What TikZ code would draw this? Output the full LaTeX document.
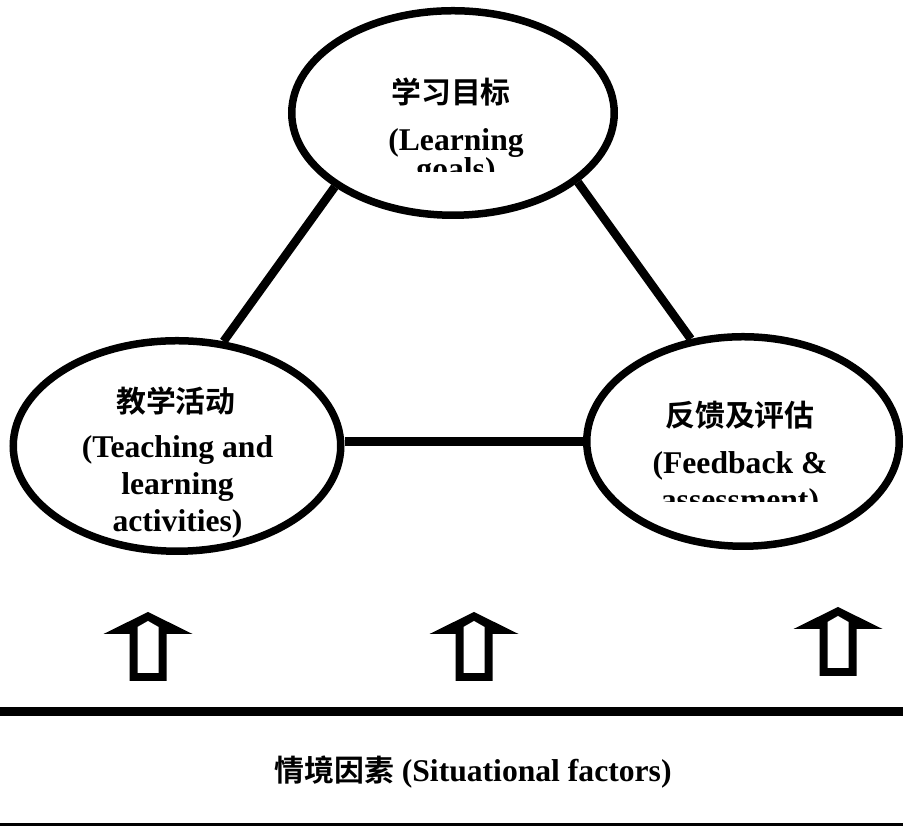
\documentclass[tikz,border=0pt]{standalone}
\usepackage{fontspec}
\setmainfont{Liberation Serif}
\newfontfamily\cjk{Noto Sans CJK SC}[BoldFont={* Bold}]
\usepackage{tikz}
\usetikzlibrary{shapes.geometric,calc}

\tikzset{
    oval/.style={draw=black, line width=0.15cm, ellipse, inner sep=0pt},
    zh/.style={font=\cjk\bfseries\fontsize{17}{20}\selectfont, inner sep=0pt},
    en/.style={font=\bfseries\fontsize{18}{21}\selectfont, align=center, anchor=north, inner sep=0pt},
    link/.style={draw=black, line width=0.17cm},
    bar/.style={draw=black, line width=0.18cm},
}

\begin{document}
\begin{tikzpicture}
        \useasboundingbox (0,0) rectangle (18.06,16.52);
        \node[oval, minimum width=6.45cm, minimum height=4.09cm] (goals) at (9.06,14.26) {};
        \node[oval, minimum width=6.55cm, minimum height=4.21cm] (act) at (3.54,7.60) {};
        \node[oval, minimum width=6.25cm, minimum height=4.19cm] (fb) at (14.86,7.69) {};
        \draw[link] (goals.-148) -- (act.66);
        \draw[link] (goals.-29) -- (fb.117);
        \draw[link] (fb.west -| act.east) -- (fb.west);
        \node[zh] (goalszh) at (9.02,14.67) {学习目标};
        \begin{scope}
            \clip (6,13.08) rectangle (12,14.2);
            \node[en] (goalsen) at (9.12,13.96) {(Learning\\[-0.16cm]goals)};
        \end{scope}
        \node[zh] (actzh) at (3.52,8.49) {教学活动};
        \node[en] (acten) at (3.55,7.82) {(Teaching and\\learning\\activities)};
        \node[zh] (fbzh) at (14.80,8.21) {反馈及评估};
        \begin{scope}
            \clip (12,6.49) rectangle (18,7.8);
            \node[en] (fben) at (14.80,7.49) {(Feedback \&\\assessment)};
        \end{scope}
        \foreach \ax/\ay in {2.96/4.28, 9.48/4.28, 16.76/4.38} {
            \fill[black] (\ax,\ay) -- ++(0.89,-0.44) -- ++(-0.52,0) -- ++(0,-0.94) -- ++(-0.74,0) -- ++(0,0.94) -- ++(-0.52,0) -- cycle;
            \fill[white] (\ax,\ay-0.18) -- ++(0.21,-0.12) -- ++(0,-0.92) -- ++(-0.42,0) -- ++(0,0.92) -- cycle;
        }
        \draw[bar] (0,2.29) -- (18.06,2.29);
        \draw[bar] (0,-0.03) -- (18.06,-0.03);
        \node[font=\bfseries\fontsize{18}{21}\selectfont] (sit) at (9.46,1.08) {{\cjk\fontsize{17}{20}\selectfont 情境因素} (Situational factors)};
\end{tikzpicture}
\end{document}
